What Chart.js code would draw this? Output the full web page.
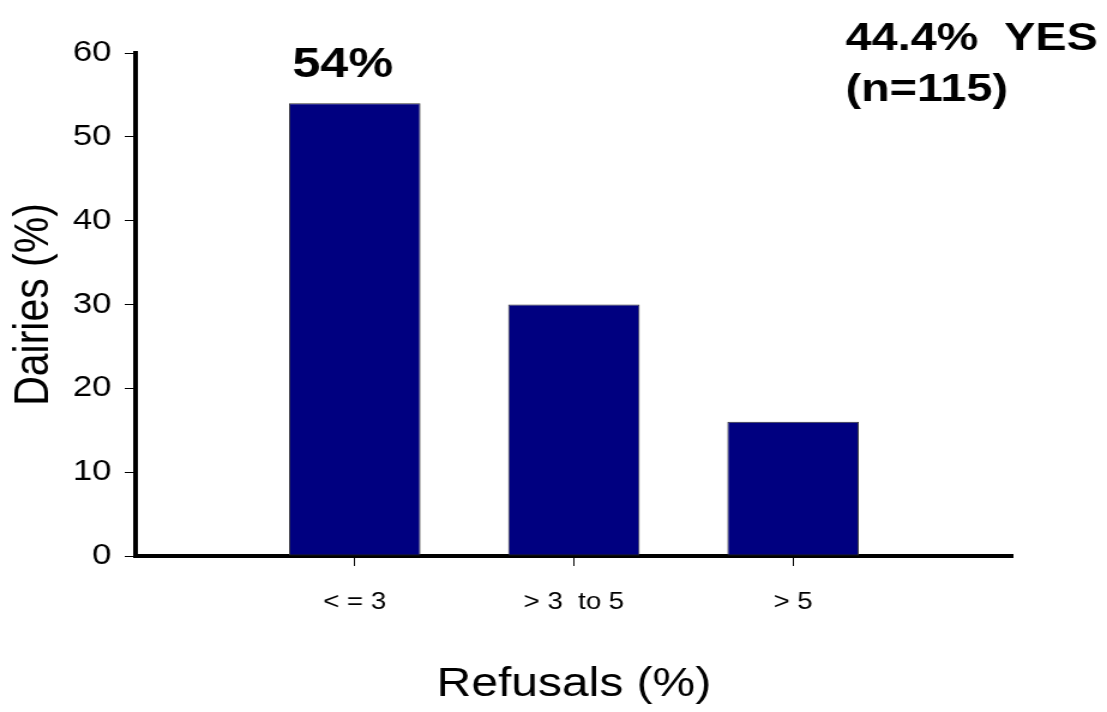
<!DOCTYPE html>
<html>
<head>
<meta charset="utf-8">
<title>Dairies by refusal rate</title>
<script src="https://cdn.jsdelivr.net/npm/chart.js@4.4.1/dist/chart.umd.min.js"></script>
<style>
  html, body { margin: 0; padding: 0; background: #fff; overflow: hidden; }
  /* the slide this chart came from was stretched sideways, so the canvas is too */
  #wrap {
    width: 923px;
    height: 712px;
    position: relative;
    transform: scaleX(1.19935);
    transform-origin: 0 0;
  }
</style>
</head>
<body>
<div id="wrap"><canvas id="refusalChart"></canvas></div>
<script>
// empty slots at each end keep the bars away from the axes
const categories = ['', '< = 3', '> 3  to 5', '> 5', ''];
const dairiesPct = [null, 54, 30, 16, null];
const labelledBars = [1];
const yTicks = [0, 10, 20, 30, 40, 50, 60];
const noteLines = ['44.4%  YES', '(n=115)'];

const FONT = "'Liberation Sans', Arial, sans-serif";

// value label over the first bar + the note in the top right corner
const textPlugin = {
    id: 'chartText',
    afterDatasetsDraw(chart) {
        const ctx = chart.ctx;
        const meta = chart.getDatasetMeta(0);
        ctx.save();
        ctx.fillStyle = '#000';
        ctx.font = 'bold 42px ' + FONT;
        ctx.textAlign = 'center';
        ctx.textBaseline = 'alphabetic';
        labelledBars.forEach(i => {
            const bar = meta.data[i];
            ctx.fillText(dairiesPct[i] + '%', bar.x - 10, bar.y - 26);
        });
        ctx.textAlign = 'left';
        ctx.font = 'bold 39px ' + FONT;
        noteLines.forEach((line, i) => {
            ctx.fillText(line, 705, 50 + i * 51);
        });
        ctx.restore();
    }
};

new Chart(document.getElementById('refusalChart'), {
    type: 'bar',
    data: {
        labels: categories,
        datasets: [{
            data: dairiesPct,
            backgroundColor: '#000080',
            borderColor: '#333333',
            borderWidth: 1,
            borderSkipped: false,
            categoryPercentage: 1,
            barPercentage: 0.6
        }]
    },
    options: {
        responsive: true,
        maintainAspectRatio: false,
        animation: false,
        layout: { padding: { top: 53, right: 79, left: 0, bottom: 0 } },
        plugins: {
            legend: { display: false },
            tooltip: { enabled: false }
        },
        scales: {
            x: {
                offset: false,
                afterFit(scale) { scale.height = 156; },
                border: { display: true, color: '#000', width: 4 },
                grid: {
                    offset: false,
                    drawOnChartArea: false,
                    drawTicks: true,
                    tickLength: 10,
                    tickColor: c => (c.tick && c.tick.label) ? '#000' : 'rgba(0,0,0,0)',
                    lineWidth: 1
                },
                ticks: {
                    color: '#000',
                    padding: 23,
                    maxRotation: 0,
                    autoSkip: false,
                    font: { family: FONT, size: 23 }
                },
                title: {
                    display: true,
                    text: 'Refusals (%)',
                    color: '#000',
                    font: { family: FONT, size: 40 },
                    padding: { top: 0, bottom: 3 }
                }
            },
            y: {
                min: 0,
                max: 60,
                afterFit(scale) { scale.width = 113; },
                afterBuildTicks(scale) { scale.ticks = yTicks.map(v => ({ value: v })); },
                border: { display: true, color: '#000', width: 4 },
                grid: {
                    drawOnChartArea: false,
                    drawTicks: true,
                    tickLength: 9,
                    tickColor: '#000',
                    lineWidth: 1
                },
                ticks: {
                    color: '#000',
                    padding: 11,
                    font: { family: FONT, size: 29 }
                },
                title: {
                    display: true,
                    text: 'Dairies (%)',
                    color: '#000',
                    font: { family: FONT, size: 41 },
                    padding: { top: 4, bottom: 0 }
                }
            }
        }
    },
    plugins: [textPlugin]
});
</script>
</body>
</html>
